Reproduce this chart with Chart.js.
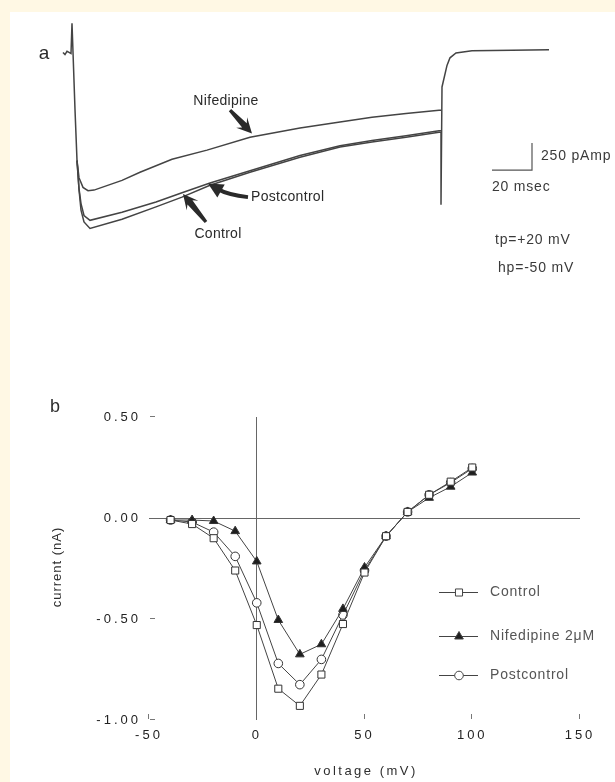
<!DOCTYPE html>
<html>
<head>
<meta charset="utf-8">
<script src="https://cdn.jsdelivr.net/npm/chart.js@4/dist/chart.umd.min.js"></script>
<style>
html, body { margin: 0; padding: 0; }
body { width: 615px; height: 782px; background: #fff8e4; position: relative; overflow: hidden; }
#papel { position: absolute; left: 10px; top: 12px; width: 605px; height: 770px; background: #fff; }
#tracos { position: absolute; left: 0; top: 0; }
#iv { position: absolute; left: 0; top: 380px; }
</style>
</head>
<body>
<div id="papel"></div>
<canvas id="tracos" width="615" height="300"></canvas>
<canvas id="iv" width="615" height="402"></canvas>
<script>
// painel a: correntes registradas (tempo em ms, corrente em pA)
const tempoInicio = [-4.5, -3.5, -2.5, -1.5, -0.5, 0, 1.5, 2.5];
const corrInicio = [0, -20, 10, 0, -10, 270, -530, -1000];

const tempoNif = [3.5, 5.5, 8, 11, 25, 34, 50, 67.5, 89, 114, 134, 150, 167, 183.5, 184.5];
const corrNif = [-1160, -1250, -1280, -1275, -1185, -1110, -990, -905, -785, -700, -645, -600, -565, -535, -535];

const tempoControle = [3.5, 4.5, 6, 9, 25, 42, 55, 69, 89, 114, 134, 150, 167, 183.5, 184.5];
const corrControle = [-1270, -1460, -1570, -1630, -1545, -1430, -1340, -1230, -1110, -970, -875, -830, -785, -740, -740];

const tempoPos = [3.5, 4.5, 6, 9, 25, 42, 55, 69, 89, 114, 134, 150, 167, 183.5, 184.5];
const corrPos = [-1260, -1400, -1510, -1555, -1480, -1385, -1300, -1210, -1095, -955, -865, -815, -772, -725, -725];

// fim do pulso e corrente de cauda
const tempoCauda = [184.5, 184.5, 185, 187.5, 189, 192, 200, 220, 238.5];
const corrCauda = [-740, -1410, -320, -120, -50, -5, 15, 20, 25];

// barra de escala: 20 ms x 250 pA
const tempoEscala = [210, 230, 230];
const corrEscala = [-1090, -1090, -840];

// painel b: curva corrente-voltagem
const tensao = [-40, -30, -20, -10, 0, 10, 20, 30, 40, 50, 60, 70, 80, 90, 100];
const controle = [-0.01, -0.03, -0.10, -0.26, -0.53, -0.845, -0.93, -0.775, -0.525, -0.27, -0.09, 0.03, 0.115, 0.18, 0.25];
const nifedipina = [-0.01, -0.01, -0.015, -0.065, -0.215, -0.505, -0.675, -0.625, -0.45, -0.245, -0.09, 0.03, 0.10, 0.155, 0.225];
const posControle = [-0.01, -0.02, -0.07, -0.19, -0.42, -0.72, -0.825, -0.70, -0.48, -0.26, -0.09, 0.03, 0.115, 0.175, 0.245];

const nomes = ["Control", "Nifedipine 2\u03bcM", "Postcontrol"];
const ticksX = [-50, 0, 50, 100, 150];
const ticksY = [0.5, 0, -0.5, -1];

const FONTE = '"Liberation Sans", Arial, sans-serif';

function pontos(xs, ys) {
    return xs.map((v, i) => ({ x: v, y: ys[i] }));
}

function traco(xs, ys) {
    return {
        data: pontos(xs, ys),
        showLine: true,
        borderColor: "#444",
        borderWidth: 1.5,
        pointRadius: 0,
        tension: 0
    };
}

// seta grossa em forma de cunha
function seta(ctx, x0, y0, x1, y1) {
    const L = Math.hypot(x1 - x0, y1 - y0);
    const dx = (x1 - x0) / L, dy = (y1 - y0) / L;
    const nx = -dy, ny = dx;
    ctx.beginPath();
    ctx.moveTo(x0 + nx * 1.6, y0 + ny * 1.6);
    ctx.lineTo(x1 - dx * 11 + nx * 3.2, y1 - dy * 11 + ny * 3.2);
    ctx.lineTo(x1 - dx * 15 + nx * 7.5, y1 - dy * 15 + ny * 7.5);
    ctx.lineTo(x1, y1);
    ctx.lineTo(x1 - dx * 15 - nx * 7.5, y1 - dy * 15 - ny * 7.5);
    ctx.lineTo(x1 - dx * 11 - nx * 3.2, y1 - dy * 11 - ny * 3.2);
    ctx.lineTo(x0 - nx * 1.6, y0 - ny * 1.6);
    ctx.closePath();
    ctx.fill();
}

function setaCurva(ctx, x0, y0, cx, cy, x1, y1) {
    const L = Math.hypot(x1 - cx, y1 - cy);
    const dx = (x1 - cx) / L, dy = (y1 - cy) / L;
    const nx = -dy, ny = dx;
    const px = x1 - dx * 11, py = y1 - dy * 11;
    ctx.beginPath();
    ctx.moveTo(x0, y0);
    ctx.quadraticCurveTo(cx, cy, px, py);
    ctx.lineWidth = 4;
    ctx.stroke();
    ctx.beginPath();
    ctx.moveTo(x1, y1);
    ctx.lineTo(x1 - dx * 15 + nx * 7.5, y1 - dy * 15 + ny * 7.5);
    ctx.lineTo(x1 - dx * 15 - nx * 7.5, y1 - dy * 15 - ny * 7.5);
    ctx.closePath();
    ctx.fill();
}

const rotulosA = {
    id: "rotulosA",
    afterDraw(chart) {
        const { ctx, scales: { x, y } } = chart;
        const px = t => x.getPixelForValue(t);
        const py = v => y.getPixelForValue(v);
        ctx.save();
        ctx.fillStyle = "#2a2a2a";
        ctx.strokeStyle = "#2a2a2a";
        ctx.textBaseline = "middle";

        ctx.font = "19px " + FONTE;
        ctx.textAlign = "center";
        ctx.fillText("a", 44, 54);

        ctx.font = "14px " + FONTE;
        ctx.letterSpacing = "0.3px";
        ctx.fillText("Nifedipine", px(77), py(-450));
        ctx.fillText("Control", px(73), py(-1680));
        ctx.textAlign = "left";
        ctx.fillText("Postcontrol", px(89.5), py(-1340));

        seta(ctx, px(79), py(-535), px(90), py(-750));
        seta(ctx, px(67), py(-1570), px(55.5), py(-1310));
        setaCurva(ctx, px(88), py(-1340), px(78), py(-1320), px(68), py(-1215));

        ctx.fillStyle = "#3a3a3a";
        ctx.font = "14px " + FONTE;
        ctx.letterSpacing = "0.8px";
        ctx.fillText("250 pAmp", px(234.5), py(-965));
        ctx.fillText("20 msec", px(210), py(-1246));
        ctx.fillText("tp=+20 mV", px(211.5), py(-1737));
        ctx.fillText("hp=-50 mV", px(213), py(-1996));
        ctx.restore();
    }
};

new Chart(document.getElementById("tracos"), {
    type: "scatter",
    data: {
        datasets: [
            traco(tempoInicio, corrInicio),
            traco(tempoInicio.slice(-1).concat(tempoNif), corrInicio.slice(-1).concat(corrNif)),
            traco(tempoInicio.slice(-1).concat(tempoControle), corrInicio.slice(-1).concat(corrControle)),
            traco(tempoInicio.slice(-1).concat(tempoPos), corrInicio.slice(-1).concat(corrPos)),
            traco(tempoCauda, corrCauda),
            Object.assign(traco(tempoEscala, corrEscala), { borderColor: "#555", borderWidth: 1.2 })
        ]
    },
    options: {
        responsive: false,
        animation: false,
        layout: { padding: { left: 52, right: 3, top: 20, bottom: 10 } },
        plugins: { legend: { display: false }, tooltip: { enabled: false } },
        scales: {
            x: { type: "linear", display: false, min: -10, max: 270 },
            y: { type: "linear", display: false, min: -2200, max: 300 }
        }
    },
    plugins: [rotulosA]
});

// painel b
const estilos = [
    { pointStyle: "rect", pointRadius: 5, pointBackgroundColor: "#fff" },
    { pointStyle: "triangle", pointRadius: 5, pointBackgroundColor: "#1e1e1e" },
    { pointStyle: "circle", pointRadius: 4.3, pointBackgroundColor: "#fff" }
];

const seriesIV = [controle, nifedipina, posControle];

const extrasB = {
    id: "extrasB",
    beforeDraw(chart) {
        chart.ctx.letterSpacing = "3px";
    },
    afterDraw(chart) {
        const { ctx, chartArea: a, scales: { x, y } } = chart;
        ctx.save();
        ctx.letterSpacing = "0px";

        // marcas internas dos eixos
        ctx.strokeStyle = "#777";
        ctx.lineWidth = 1;
        ctx.beginPath();
        ticksX.filter(v => v !== 0).forEach(v => {
            const p = Math.round(x.getPixelForValue(v)) - 0.5;
            ctx.moveTo(p, a.bottom - 1);
            ctx.lineTo(p, a.bottom - 6);
        });
        ticksY.filter(v => v !== 0).forEach(v => {
            const p = Math.round(y.getPixelForValue(v)) - 0.5;
            ctx.moveTo(a.left + 1, p);
            ctx.lineTo(a.left + 6, p);
        });
        ctx.stroke();

        // legenda
        const yLeg = [212, 256, 295];
        chart.data.datasets.forEach((ds, i) => {
            ctx.strokeStyle = "#444";
            ctx.lineWidth = 1;
            ctx.beginPath();
            ctx.moveTo(439, yLeg[i] + 0.5);
            ctx.lineTo(478, yLeg[i] + 0.5);
            ctx.stroke();
            ctx.fillStyle = ds.pointBackgroundColor;
            Chart.helpers.drawPoint(ctx, {
                pointStyle: ds.pointStyle,
                radius: ds.pointRadius,
                borderWidth: 1,
                rotation: 0
            }, 459, yLeg[i] + 0.5);
            ctx.fillStyle = "#555";
            ctx.font = "14px " + FONTE;
            ctx.letterSpacing = "0.8px";
            ctx.textAlign = "left";
            ctx.textBaseline = "middle";
            ctx.fillText(nomes[i], 490, yLeg[i]);
            ctx.letterSpacing = "0px";
        });

        // títulos e letra do painel
        ctx.fillStyle = "#2e2e2e";
        ctx.textAlign = "center";
        ctx.textBaseline = "middle";
        ctx.font = "18px " + FONTE;
        ctx.fillText("b", 55, 27);
        ctx.font = "13px " + FONTE;
        ctx.letterSpacing = "2.5px";
        ctx.fillText("voltage (mV)", 366, 391);
        ctx.translate(57, 187);
        ctx.rotate(-Math.PI / 2);
        ctx.font = "13px " + FONTE;
        ctx.letterSpacing = "1px";
        ctx.fillText("current (nA)", 0, 0);
        ctx.restore();
    }
};

new Chart(document.getElementById("iv"), {
    type: "line",
    data: {
        datasets: seriesIV.map((serie, i) => Object.assign({
            label: nomes[i],
            data: pontos(tensao, serie),
            borderColor: "#444",
            borderWidth: 1,
            pointBorderColor: "#333",
            pointBorderWidth: 1,
            tension: 0
        }, estilos[i]))
    },
    options: {
        responsive: false,
        animation: false,
        layout: { padding: { left: 0, right: 35, top: 37, bottom: 0 } },
        plugins: { legend: { display: false }, tooltip: { enabled: false } },
        scales: {
            x: {
                type: "linear",
                min: -50,
                max: 150,
                afterFit: s => { s.height = 62; },
                afterBuildTicks: s => { s.ticks = ticksX.map(v => ({ value: v })); },
                border: { display: false },
                grid: {
                    drawTicks: false,
                    color: c => c.tick && c.tick.value === 0 ? "#666" : "rgba(0,0,0,0)"
                },
                ticks: {
                    padding: 8,
                    color: "#222",
                    font: { family: FONTE, size: 13 },
                    maxRotation: 0
                }
            },
            y: {
                type: "linear",
                min: -1,
                max: 0.5,
                afterFit: s => { s.width = 149; },
                afterBuildTicks: s => { s.ticks = ticksY.map(v => ({ value: v })); },
                border: { display: false },
                grid: {
                    drawTicks: false,
                    color: c => c.tick && c.tick.value === 0 ? "#666" : "rgba(0,0,0,0)"
                },
                ticks: {
                    padding: 8,
                    color: "#222",
                    font: { family: FONTE, size: 13 },
                    callback: v => v.toFixed(2)
                }
            }
        }
    },
    plugins: [extrasB]
});
</script>
</body>
</html>
